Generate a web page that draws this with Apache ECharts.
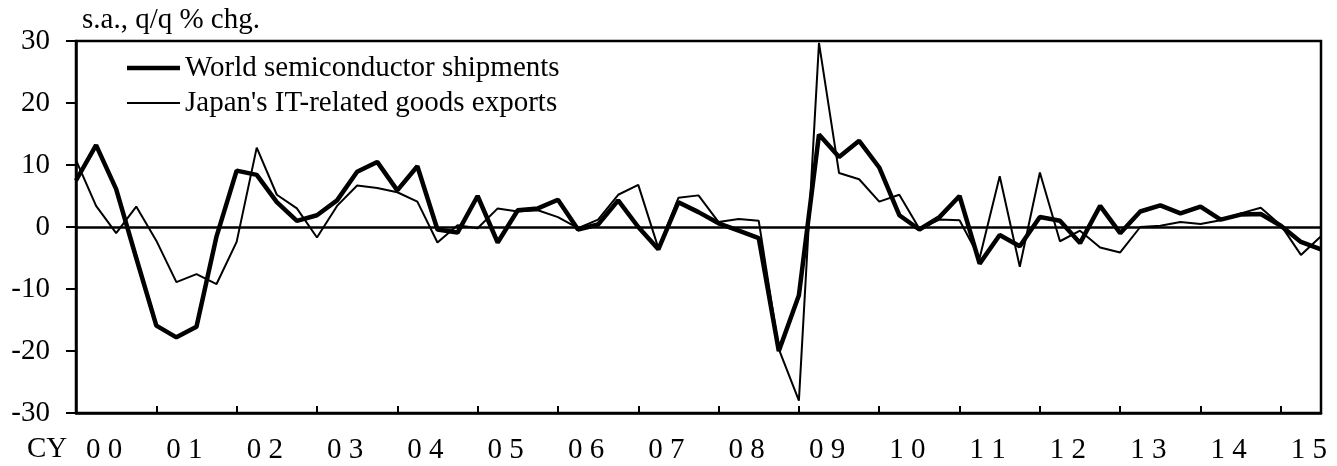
<!DOCTYPE html>
<html>
<head>
<meta charset="utf-8">
<script src="https://cdn.jsdelivr.net/npm/echarts@6/dist/echarts.min.js"></script>
<style>
  html, body { margin: 0; padding: 0; background: #fff; }
  #chart { width: 1337px; height: 466px; }
</style>
</head>
<body>
<div id="chart"></div>
<script>
// quarterly, 2000Q1 .. 2015Q3
const yearLabels = ["0 0", "0 1", "0 2", "0 3", "0 4", "0 5", "0 6", "0 7",
  "0 8", "0 9", "1 0", "1 1", "1 2", "1 3", "1 4", "1 5"];

const worldSemis = [
  7.5, 13.2, 6.1, -5.0, -15.9, -17.8, -16.1, -1.5,
  9.1, 8.4, 4.0, 1.0, 1.9, 4.3, 8.9, 10.5,
  5.9, 9.8, -0.4, -0.9, 5.0, -2.5, 2.7, 3.0,
  4.4, -0.4, 0.4, 4.3, 0.0, -3.6, 4.0, 2.4,
  0.6, -0.6, -1.8, -20.0, -11.0, 14.9, 11.3, 13.9,
  9.6, 1.9, -0.4, 1.6, 5.0, -5.9, -1.3, -3.1,
  1.6, 1.0, -2.6, 3.4, -1.0, 2.5, 3.5, 2.2,
  3.3, 1.2, 2.0, 2.1, 0.2, -2.4, -3.6,
];

const japanIT = [
  10.8, 3.4, -1.0, 3.3, -2.2, -8.9, -7.6, -9.2,
  -2.4, 12.8, 5.2, 3.0, -1.7, 3.4, 6.7, 6.3,
  5.6, 4.1, -2.5, 0.3, -0.2, 3.0, 2.5, 2.7,
  1.6, -0.2, 1.2, 5.2, 6.8, -3.4, 4.7, 5.1,
  0.8, 1.3, 1.0, -19.7, -28.0, 29.7, 8.7, 7.7,
  4.1, 5.2, -0.3, 1.2, 1.1, -5.0, 8.2, -6.4,
  8.8, -2.3, -0.6, -3.3, -4.1, 0.0, 0.2, 0.8,
  0.5, 1.1, 2.2, 3.1, 0.3, -4.5, -1.5,
];

const worldName = "World semiconductor shipments";
const japanName = "Japan's IT-related goods exports";

const font = '"Liberation Serif", "Times New Roman", serif';
const fontSize = 29;
const lastIndex = worldSemis.length - 1;
const yearStarts = yearLabels.slice(1).map((_, k) => (k + 1) * 4);
const yearMids = yearLabels.map((_, k) => k * 4 + 1.4);

const legendBase = {
  orient: "vertical",
  left: 127,
  padding: 0,
  icon: "rect",
  itemWidth: 53,
  textStyle: { fontFamily: font, fontSize: fontSize, lineHeight: 30, color: "#000", padding: [0, 0, 0, 0] },
};

const chart = echarts.init(document.getElementById("chart"));

chart.setOption({
  animation: false,
  textStyle: { fontFamily: font, color: "#000" },
  title: {
    text: "s.a., q/q % chg.",
    left: 77,
    top: 1,
    textStyle: { fontFamily: font, fontSize: fontSize, fontWeight: "normal", color: "#000" },
  },
  graphic: [
    {
      type: "text",
      left: 27,
      top: 435,
      style: { text: "CY", font: fontSize + "px " + font, fill: "#000" },
    },
  ],
  legend: [
    { ...legendBase, top: 53, itemHeight: 4.5, data: [worldName] },
    { ...legendBase, top: 88, itemHeight: 2, data: [japanName] },
  ],
  grid: {
    left: 76,
    right: 16,
    top: 41,
    bottom: 53,
    show: true,
    borderColor: "#000",
    borderWidth: 2.5,
  },
  xAxis: {
    type: "value",
    min: 0,
    max: lastIndex,
    axisLine: { onZero: false, lineStyle: { color: "#000", width: 2.5 } },
    axisTick: {
      inside: true,
      length: 7,
      customValues: yearStarts,
      lineStyle: { color: "#000", width: 2 },
    },
    axisLabel: {
      customValues: yearMids,
      formatter: (v) => yearLabels[Math.round((v - 1.4) / 4)],
      fontFamily: font,
      fontSize: fontSize,
      color: "#000",
      margin: 23,
    },
    splitLine: { show: false },
  },
  yAxis: {
    type: "value",
    min: -30,
    max: 30,
    interval: 10,
    axisLine: { show: true, lineStyle: { color: "#000", width: 2.5 } },
    axisTick: { show: true, inside: false, length: 10, lineStyle: { color: "#000", width: 2 } },
    axisLabel: {
      fontFamily: font,
      fontSize: fontSize,
      color: "#000",
      margin: 26,
    },
    splitLine: { show: false },
  },
  series: [
    {
      name: worldName,
      type: "line",
      symbol: "none",
      data: worldSemis.map((v, i) => [i, v]),
      lineStyle: { color: "#000", width: 4.5 },
      itemStyle: { color: "#000" },
      z: 3,
      markLine: {
        silent: true,
        symbol: "none",
        label: { show: false },
        lineStyle: { color: "#000", width: 2.5, type: "solid" },
        data: [{ yAxis: 0 }],
      },
    },
    {
      name: japanName,
      type: "line",
      symbol: "none",
      data: japanIT.map((v, i) => [i, v]),
      lineStyle: { color: "#000", width: 2 },
      itemStyle: { color: "#000" },
      z: 2,
    },
  ],
});
</script>
</body>
</html>
